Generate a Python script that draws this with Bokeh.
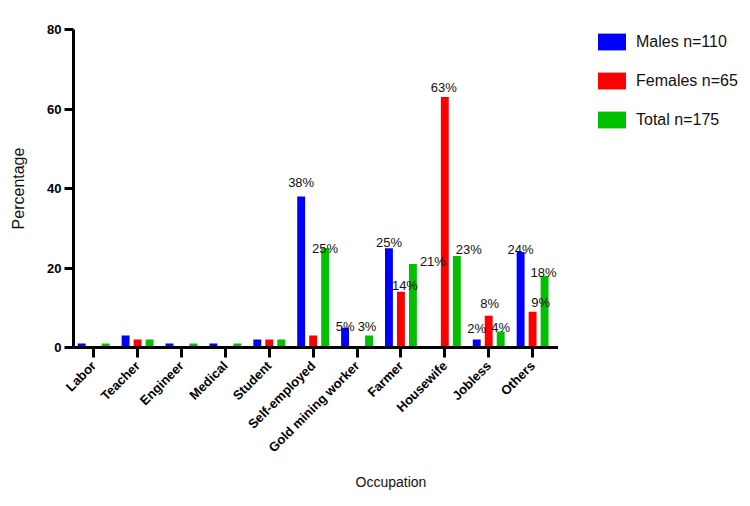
import math

from bokeh.plotting import figure
from bokeh.layouts import row
from bokeh.core.properties import value
from bokeh.models import (ColumnDataSource, FixedTicker, Legend, LegendItem,
                          LabelSet, Range1d, Title)
from bokeh.embed import file_html
from bokeh.resources import INLINE

# ---- data -------------------------------------------------------------
occupations = ["Labor", "Teacher", "Engineer", "Medical", "Student",
               "Self-employed", "Gold mining worker", "Farmer", "Housewife",
               "Jobless", "Others"]
males = [1, 3, 1, 1, 2, 38, 5, 25, 0, 2, 24]
females = [0, 2, 0, 0, 2, 3, 0, 14, 63, 8, 9]
total = [1, 2, 1, 1, 2, 25, 3, 21, 23, 4, 18]
series_names = ["Males n=110", "Females n=65", "Total n=175"]
y_ticks = [0, 20, 40, 60, 80]

# bars that carry a percentage label: (occupation index, series index)
labelled = [(5, 0), (5, 2), (6, 0), (6, 2), (7, 0), (7, 1), (7, 2), (8, 1),
            (8, 2), (9, 0), (9, 1), (9, 2), (10, 0), (10, 1), (10, 2)]

# ---- styling ----------------------------------------------------------
colors = ["#0000ff", "#ff0000", "#00c000"]
FONT = "Liberation Sans"
group_offsets = [-0.273, 0.0, 0.273]   # dodge of each series inside a group
bar_width = 0.18
# pixel nudges (dx, dy) for each label, in the same order as `labelled`
label_nudge = [(0, 9), (0, -5), (0, -3), (-2, 5), (0, 1), (4, 2), (20, -2),
               (-1, 5), (12, 2), (0, 7), (1, 8), (0, 0), (0, -2), (8, 5),
               (-1, -1)]

p = figure(width=558, height=506, output_backend="svg", toolbar_location=None,
           min_border_left=73, min_border_right=0, min_border_top=29,
           min_border_bottom=159,
           x_range=Range1d(-0.46, 10.59), y_range=Range1d(0, 80))
p.outline_line_color = None
p.xgrid.grid_line_color = None
p.ygrid.grid_line_color = None
p.background_fill_color = "white"
p.border_fill_color = "white"

series = [males, females, total]
sources = []
for vals, off, col in zip(series, group_offsets, colors):
    src = ColumnDataSource(dict(x=[i + off for i in range(len(occupations))],
                                top=vals))
    sources.append(src)
    p.vbar(x="x", top="top", bottom=0, width=bar_width, source=src,
           fill_color=col, line_color=None)

# value labels above selected bars
lx, ly, lt, lxo, lyo = [], [], [], [], []
for (ci, si), (dx, dy) in zip(labelled, label_nudge):
    v = series[si][ci]
    lx.append(ci + group_offsets[si])
    ly.append(v)
    lt.append(f"{v}%")
    lxo.append(dx)
    lyo.append(dy)
lab_src = ColumnDataSource(dict(x=lx, y=ly, text=lt, xo=lxo, yo=lyo))
p.add_layout(LabelSet(x="x", y="y", text="text", x_offset="xo", y_offset="yo",
                      source=lab_src, text_font=value(FONT),
                      text_font_size=value("13px"),
                      text_color="#111111", text_align="center",
                      text_baseline="alphabetic"))

# axes
for ax in (p.xaxis[0], p.yaxis[0]):
    ax.axis_line_width = 3
    ax.axis_line_color = "black"
    ax.major_tick_line_width = 3
    ax.major_tick_line_color = "black"
    ax.major_tick_in = 0
    ax.minor_tick_line_color = None
    ax.major_label_text_font = FONT
    ax.major_label_text_font_style = "bold"
    ax.major_label_text_font_size = "13px"
    ax.major_label_text_color = "black"
    ax.axis_label_text_font = FONT
    ax.axis_label_text_font_style = "normal"
    ax.axis_label_text_color = "#111111"

p.yaxis.ticker = FixedTicker(ticks=y_ticks)
p.yaxis.major_tick_out = 9
p.yaxis.major_label_standoff = 3
p.yaxis.axis_label = "Percentage"
p.yaxis.axis_label_text_font_size = "16px"
p.yaxis.axis_label_standoff = 17

p.xaxis.ticker = FixedTicker(ticks=list(range(len(occupations))))
p.xaxis.major_label_overrides = {i: name for i, name in enumerate(occupations)}
p.xaxis.major_label_orientation = math.pi / 4
p.xaxis.major_tick_out = 10
p.xaxis.major_label_standoff = 6

# x axis title, set right of the frame centre
p.add_layout(Title(text="Occupation", align="left", offset=282,
                   text_font=FONT, text_font_size="14px",
                   text_font_style="normal", text_color="#111111",
                   standoff=16), "below")

# legend panel to the right of the chart; its swatch renderers share the
# bar sources but look at an empty stretch of x, so only the legend shows
lg = figure(width=192, height=506, output_backend="svg", toolbar_location=None,
            min_border_left=34, min_border_right=0, min_border_top=0,
            min_border_bottom=0, x_axis_location=None, y_axis_location=None,
            x_range=Range1d(-100, -99), y_range=Range1d(0, 1))
lg.outline_line_color = None
lg.xgrid.grid_line_color = None
lg.ygrid.grid_line_color = None
lg.background_fill_color = "white"
lg.border_fill_color = "white"
swatches = [lg.vbar(x="x", top="top", bottom=0, width=bar_width, source=src,
                    fill_color=col, line_color=None)
            for src, col in zip(sources, colors)]
legend = Legend(items=[LegendItem(label=n, renderers=[r])
                       for n, r in zip(series_names, swatches)],
                location="top_left", orientation="vertical",
                glyph_width=35, glyph_height=21, label_height=21,
                spacing=18, label_standoff=7, padding=0, margin=2,
                label_text_font=FONT, label_text_font_size="16px",
                label_text_color="#111111",
                border_line_color=None, background_fill_alpha=0)
lg.add_layout(legend, "center")

layout = row(p, lg, spacing=0)
open("out.html", "w").write(file_html(layout, INLINE))
